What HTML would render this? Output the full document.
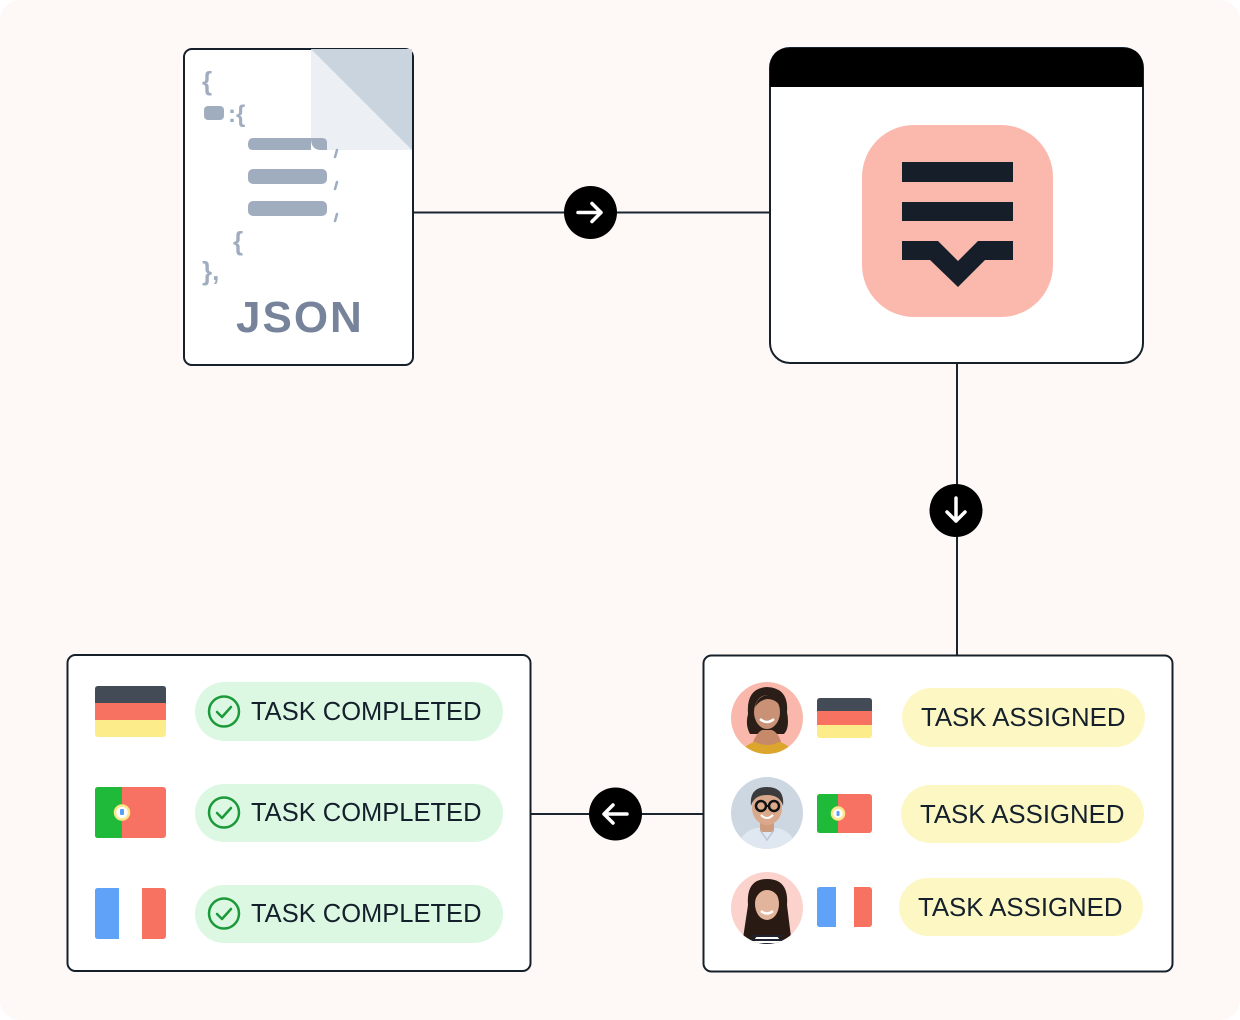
<!DOCTYPE html>
<html><head><meta charset="utf-8"><style>
html,body{margin:0;padding:0;background:#fff;}
body{width:1240px;height:1020px;overflow:hidden;}
svg{display:block;}
text{font-family:"Liberation Sans",sans-serif;}
</style></head><body>
<svg width="1240" height="1020" viewBox="0 0 1240 1020" xmlns="http://www.w3.org/2000/svg">
<defs>
<clipPath id="c1"><circle cx="767" cy="718" r="36"/></clipPath>
<clipPath id="c2"><circle cx="767" cy="813" r="36"/></clipPath>
<clipPath id="c3"><circle cx="767" cy="908" r="36"/></clipPath>
</defs>
<rect x="0" y="0" width="1240" height="1020" rx="20" fill="#fef9f7"/>

<!-- connectors -->
<line x1="413" y1="212.5" x2="769" y2="212.5" stroke="#1b2530" stroke-width="2"/>
<line x1="957" y1="364" x2="957" y2="655" stroke="#1b2530" stroke-width="2"/>
<line x1="531" y1="814" x2="703" y2="814" stroke="#1b2530" stroke-width="2"/>

<circle cx="590.5" cy="212.5" r="26.5" fill="#000"/>
<path d="M578 212.5 H601 M592 203.5 L601 212.5 L592 221.5" stroke="#fff" stroke-width="3.5" fill="none" stroke-linecap="round" stroke-linejoin="round"/>
<circle cx="956" cy="510.5" r="26.5" fill="#000"/>
<path d="M956 498 V521 M947 512 L956 521 L965 512" stroke="#fff" stroke-width="3.5" fill="none" stroke-linecap="round" stroke-linejoin="round"/>
<circle cx="615.5" cy="814" r="26.5" fill="#000"/>
<path d="M627 814 H604 M613 805 L604 814 L613 823" stroke="#fff" stroke-width="3.5" fill="none" stroke-linecap="round" stroke-linejoin="round"/>

<!-- JSON doc -->
<rect x="184" y="49" width="229" height="316" rx="8" fill="#fff" stroke="#16202a" stroke-width="2"/>
<path d="M311 49 L311 140 Q311 150 321 150 L412 150 Z" fill="#eceff4"/>
<path d="M311 49 L412 49 L412 150 Z" fill="#cad4df"/>
<g fill="#a0adbf">
<text x="202" y="90" font-family="Liberation Mono,monospace" font-size="26" font-weight="bold" fill="#a0adbf">{</text>
<rect x="204" y="106" width="20" height="14" rx="4"/>
<text x="228" y="122" font-family="Liberation Mono,monospace" font-size="24" font-weight="bold" fill="#a0adbf">:{</text>
<path d="M253 138 H311 V150 H253 Q248 150 248 145 Q248 138 253 138 Z"/>
<path d="M311 138 Q311 150 321 150 L327 150 L327 143 Q327 138 322 138 Z" fill="#a0adbf"/>
<rect x="248" y="169" width="79" height="15" rx="5"/>
<rect x="248" y="201" width="79" height="15" rx="5"/>
<path d="M337 150 L335 157" stroke="#a0adbf" stroke-width="2.5" stroke-linecap="round"/>
<path d="M337 182 L335 189" stroke="#a0adbf" stroke-width="2.5" stroke-linecap="round"/>
<path d="M337 214 L335 221" stroke="#a0adbf" stroke-width="2.5" stroke-linecap="round"/>
<text x="233" y="250" font-family="Liberation Mono,monospace" font-size="26" font-weight="bold" fill="#a0adbf">{</text>
<text x="202" y="280" font-family="Liberation Mono,monospace" font-size="26" font-weight="bold" fill="#a0adbf">},</text>
</g>
<text x="236" y="332" font-size="44" font-weight="bold" letter-spacing="2" fill="#76839a">JSON</text>

<!-- Window -->
<rect x="770" y="48" width="373" height="315" rx="20" fill="#fff" stroke="#16202a" stroke-width="2"/>
<path d="M770 87 V68 Q770 48 790 48 H1123 Q1143 48 1143 68 V87 Z" fill="#000"/>
<rect x="862" y="125" width="191" height="192" rx="52" fill="#fbb9ae"/>
<rect x="902" y="162" width="111" height="20" fill="#161f29"/>
<rect x="902" y="202" width="111" height="19" fill="#161f29"/>
<path d="M902 241 H938 L958 261 L978 241 H1013 V260 H985 L958 287 L930 260 H902 Z" fill="#161f29"/>

<!-- Bottom left box -->
<rect x="67.5" y="655" width="463" height="316" rx="8" fill="#fff" stroke="#16202a" stroke-width="2"/>
<g>
<rect x="95" y="686" width="71" height="51" rx="3" fill="#fdec8a"/>
<path d="M98 686 H163 Q166 686 166 689 V703 H95 V689 Q95 686 98 686 Z" fill="#434c56"/>
<rect x="95" y="703" width="71" height="17" fill="#f77260"/>
</g>
<g>
<rect x="95" y="787" width="71" height="51" rx="3" fill="#f77262"/>
<path d="M98 787 H122 V838 H98 Q95 838 95 835 V790 Q95 787 98 787 Z" fill="#1fba3a"/>
<circle cx="122" cy="812.5" r="7" fill="#fff" stroke="#fbe68a" stroke-width="2.5"/>
<rect x="120" y="809" width="4" height="6" rx="1" fill="#5b9ef5"/>
</g>
<g>
<rect x="95" y="888" width="71" height="51" rx="3" fill="#f77260"/>
<path d="M98 888 H119 V939 H98 Q95 939 95 936 V891 Q95 888 98 888 Z" fill="#61a2f9"/>
<rect x="119" y="888" width="23" height="51" fill="#fff"/>
</g>
<g>
<rect x="195" y="682" width="308" height="59" rx="29.5" fill="#dcf8e2"/>
<circle cx="224" cy="711.5" r="15" fill="none" stroke="#1c9a3a" stroke-width="2.5"/>
<path d="M217 712 L222 717 L231 707" fill="none" stroke="#1c9a3a" stroke-width="2.5" stroke-linecap="round" stroke-linejoin="round"/>
<text x="251" y="720" font-size="25.5" fill="#14202b">TASK COMPLETED</text>
</g>
<g>
<rect x="195" y="784" width="308" height="58" rx="29" fill="#dcf8e2"/>
<circle cx="224" cy="812.5" r="15" fill="none" stroke="#1c9a3a" stroke-width="2.5"/>
<path d="M217 813 L222 818 L231 808" fill="none" stroke="#1c9a3a" stroke-width="2.5" stroke-linecap="round" stroke-linejoin="round"/>
<text x="251" y="821" font-size="25.5" fill="#14202b">TASK COMPLETED</text>
</g>
<g>
<rect x="195" y="885" width="308" height="58" rx="29" fill="#dcf8e2"/>
<circle cx="224" cy="913.5" r="15" fill="none" stroke="#1c9a3a" stroke-width="2.5"/>
<path d="M217 914 L222 919 L231 909" fill="none" stroke="#1c9a3a" stroke-width="2.5" stroke-linecap="round" stroke-linejoin="round"/>
<text x="251" y="922" font-size="25.5" fill="#14202b">TASK COMPLETED</text>
</g>

<!-- Bottom right box -->
<rect x="703.5" y="655.5" width="469" height="316" rx="8" fill="#fff" stroke="#16202a" stroke-width="2"/>

<g clip-path="url(#c1)">
<rect x="731" y="682" width="72" height="72" fill="#f9b8ab"/>
<path d="M748 714 Q746 688 767 687 Q789 688 787 712 Q790 728 784 734 L750 734 Q745 725 748 714 Z" fill="#2b1d17"/>
<path d="M752 745 Q756 733 762 730 H772 Q779 733 782 745 Z" fill="#c68a6b"/>
<ellipse cx="767" cy="712" rx="13" ry="17" fill="#c99276"/>
<path d="M755 707 Q758 694 772 695 Q781 699 781 708 Q777 699 767 699 Q760 700 755 707 Z" fill="#2b1d17"/>
<path d="M760 719 Q767 725 774 719" stroke="#fff" stroke-width="2.5" fill="none"/>
<path d="M736 760 Q744 744 755 742 Q767 748 779 742 Q790 744 798 760 Z" fill="#dca62c"/>
</g>
<g clip-path="url(#c2)">
<rect x="731" y="777" width="72" height="72" fill="#cdd7e2"/>
<path d="M735 852 Q740 832 756 828 H778 Q794 832 799 852 Z" fill="#dfe7f1"/>
<rect x="760" y="818" width="14" height="14" fill="#cf9c7f"/>
<ellipse cx="767" cy="808" rx="15" ry="17" fill="#daa98b"/>
<path d="M751 806 Q749 787 767 787 Q785 787 783 806 Q780 795 767 795 Q754 795 751 806 Z" fill="#3b3b3d"/>
<circle cx="761" cy="806" r="5" fill="none" stroke="#111" stroke-width="2.5"/>
<circle cx="774" cy="806" r="5" fill="none" stroke="#111" stroke-width="2.5"/>
<path d="M766 806 H769" stroke="#111" stroke-width="2"/>
<path d="M761 815 Q767 821 773 815" stroke="#fff" stroke-width="2" fill="none"/>
<path d="M760 830 L767 840 L774 830" fill="none" stroke="#b9c6d6" stroke-width="1.5"/>
</g>
<g clip-path="url(#c3)">
<rect x="731" y="872" width="72" height="72" fill="#fbd2cc"/>
<path d="M748 905 Q746 879 767 879 Q789 879 787 905 L792 945 H742 Z" fill="#2a1a14"/>
<path d="M758 935 H776 L784 945 H750 Z" fill="#fff"/>
<path d="M752 936 H782 M750 940 H784 M748 944 H786" stroke="#1d2430" stroke-width="2"/>
<ellipse cx="767" cy="904" rx="12" ry="16" fill="#e3b49c"/>
<path d="M755 900 Q757 886 767 886 Q778 886 780 900 Q775 890 767 890 Q759 890 755 900 Z" fill="#2a1a14"/>
<path d="M761 911 Q767 916 773 911" stroke="#fff" stroke-width="2.5" fill="none"/>
</g>

<g>
<rect x="817" y="698" width="55" height="40" rx="3" fill="#fdec8a"/>
<path d="M820 698 H869 Q872 698 872 701 V711 H817 V701 Q817 698 820 698 Z" fill="#434c56"/>
<rect x="817" y="711" width="55" height="14" fill="#f77260"/>
</g>
<g>
<rect x="817" y="794" width="55" height="39" rx="3" fill="#f77262"/>
<path d="M820 794 H838 V833 H820 Q817 833 817 830 V797 Q817 794 820 794 Z" fill="#1fba3a"/>
<circle cx="838" cy="813.5" r="6" fill="#fff" stroke="#fbe68a" stroke-width="2.5"/>
<rect x="836.5" y="811" width="3" height="5" rx="1" fill="#5b9ef5"/>
</g>
<g>
<rect x="817" y="887" width="55" height="40" rx="3" fill="#f77260"/>
<path d="M820 887 H836 V927 H820 Q817 927 817 924 V890 Q817 887 820 887 Z" fill="#61a2f9"/>
<rect x="836" y="887" width="18" height="40" fill="#fff"/>
</g>

<rect x="902" y="688" width="243" height="59" rx="29.5" fill="#fdf7c4"/>
<text x="921" y="726" font-size="25.8" fill="#14202b">TASK ASSIGNED</text>
<rect x="901" y="785" width="243" height="58" rx="29" fill="#fdf7c4"/>
<text x="920" y="823" font-size="25.8" fill="#14202b">TASK ASSIGNED</text>
<rect x="899" y="878" width="244" height="58" rx="29" fill="#fdf7c4"/>
<text x="918" y="916" font-size="25.8" fill="#14202b">TASK ASSIGNED</text>
</svg>
</body></html>
